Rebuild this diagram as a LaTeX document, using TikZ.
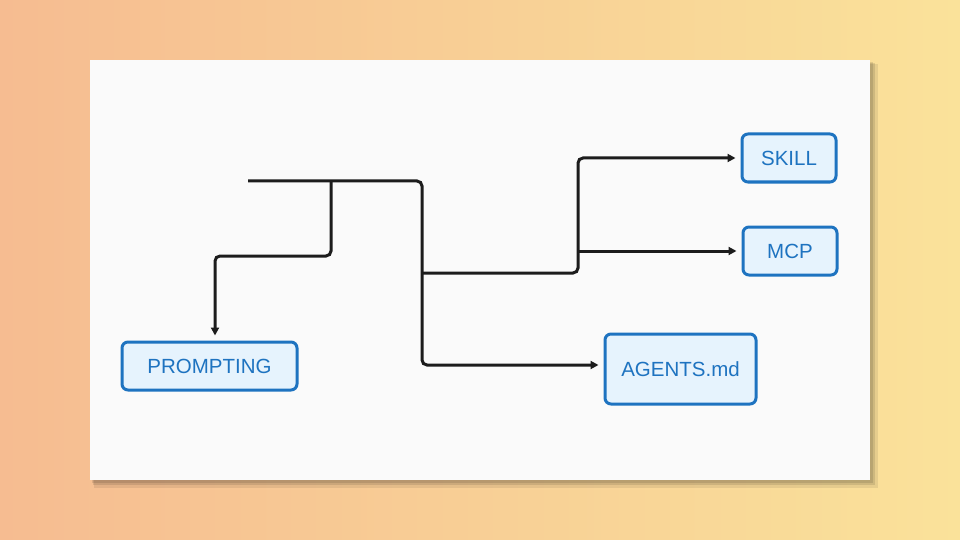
\documentclass[tikz,border=0pt]{standalone}
\usepackage{fontspec}
\setsansfont{Liberation Sans}
\usetikzlibrary{arrows.meta,shadows}
\definecolor{bl}{HTML}{1E73C0}
\definecolor{bfill}{HTML}{E6F3FD}
\definecolor{ln}{HTML}{1C1C1C}
\begin{document}
\begin{tikzpicture}[x=1pt,y=-1pt,
  box/.style={draw=bl,line width=3pt,fill=bfill,rounded corners=6pt,text=bl,font=\sffamily\fontsize{20.5}{24}\selectfont,inner sep=0pt},
  conn/.style={draw=ln,line width=3pt,rounded corners=5pt},
  arr/.style={conn,-{Triangle[length=8pt,width=8pt]},shorten >=5pt}]
\shade[left color={rgb,255:red,246;green,188;blue,145},right color={rgb,255:red,250;green,226;blue,154}] (0,0) rectangle (960,540);
\fill[black,opacity=0.08] (94,64) rectangle (878,488);
\fill[black,opacity=0.1] (93,63) rectangle (875,485);
\fill[black,opacity=0.1] (92,62) rectangle (873,483);
\fill[white!98!black] (90,60) rectangle (870,480);
\node[box,minimum width=94pt,minimum height=48pt] (skill) at (789,158) {SKILL};
\node[box,minimum width=94pt,minimum height=48pt] (mcp) at (790,251) {MCP};
\node[box,minimum width=151pt,minimum height=70pt] (agents) at (680.5,369) {AGENTS.md};
\node[box,minimum width=175pt,minimum height=48pt] (prompt) at (209.5,366) {PROMPTING};
\coordinate (s) at (248,181);
\coordinate (j1) at (331,181);
\coordinate (j2) at (422,273);
\coordinate (j3) at (578,251);
\coordinate (ya) at (0,365);
\draw[arr] (s) -- (422,181) -- (422,365) -- (agents.west |- ya);
\draw[arr] (j1) -- (331,256) -- (215,256) -- (prompt.north -| 215,0);
\draw[arr] (j2) -- (578,273) -- (578,158) -- (skill.west);
\draw[arr] (j3) -- (mcp.west);
\end{tikzpicture}
\end{document}
